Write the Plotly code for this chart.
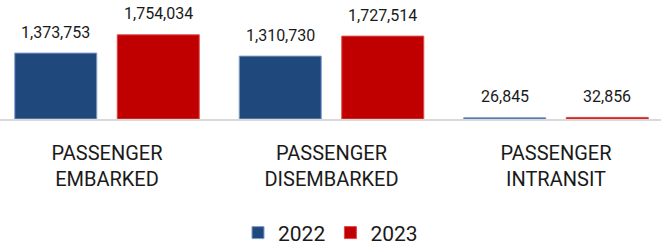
import plotly.graph_objects as go

categories = ["PASSENGER<br>EMBARKED", "PASSENGER<br>DISEMBARKED", "PASSENGER<br>INTRANSIT"]
cat_keys = ["EMBARKED", "DISEMBARKED", "INTRANSIT"]
series_names = ["2022", "2023"]
values_2022 = [1373753, 1310730, 26845]
values_2023 = [1754034, 1727514, 32856]

colors = ["#1F497D", "#C00000"]
line_colors = ["#7F9CC8", "#E04848"]

fig = go.Figure()
for name, vals, c, lc in zip(series_names, [values_2022, values_2023], colors, line_colors):
    fig.add_trace(go.Bar(
        name=name, x=cat_keys, y=vals,
        marker=dict(color=c, line=dict(color=lc, width=1)),
        hoverinfo="skip",
    ))

# value labels above bars
shifts = [-51.25, 51.25]
for vals, xs in zip([values_2022, values_2023], shifts):
    for k, v in zip(cat_keys, vals):
        fig.add_annotation(
            x=k, y=v, xref="x", yref="y", text=f"{v:,}", showarrow=False,
            xshift=xs, yshift=21, yanchor="middle",
            font=dict(family="Roboto", size=16, color="#1a1a1a"),
        )

fig.update_layout(
    width=661, height=246,
    margin=dict(l=0, r=0, t=0, b=127, autoexpand=False),
    paper_bgcolor="white", plot_bgcolor="white",
    barmode="group", bargap=0.0869, bargroupgap=0.2,
    showlegend=True,
    legend=dict(
        orientation="h", x=0.5, xanchor="center",
        yref="container", y=0.053, yanchor="middle",
        font=dict(family="Roboto", size=21, color="#1a1a1a"),
        bgcolor="rgba(0,0,0,0)",
    ),
    font=dict(family="Roboto"),
)
fig.update_xaxes(
    type="category",
    range=[-0.4766, 2.4677],
    tickvals=cat_keys, ticktext=categories,
    showline=True, linecolor="#D9D9D9", linewidth=2,
    showgrid=False, ticks="", ticklabelstandoff=15,
    tickfont=dict(family="Roboto", size=20, color="#1a1a1a"),
)
fig.update_yaxes(
    range=[0, 2480000], visible=False, showgrid=False, zeroline=False,
)

fig.write_html("out.html", config={"displayModeBar": False},
               post_script="document.body.style.margin='0';")
